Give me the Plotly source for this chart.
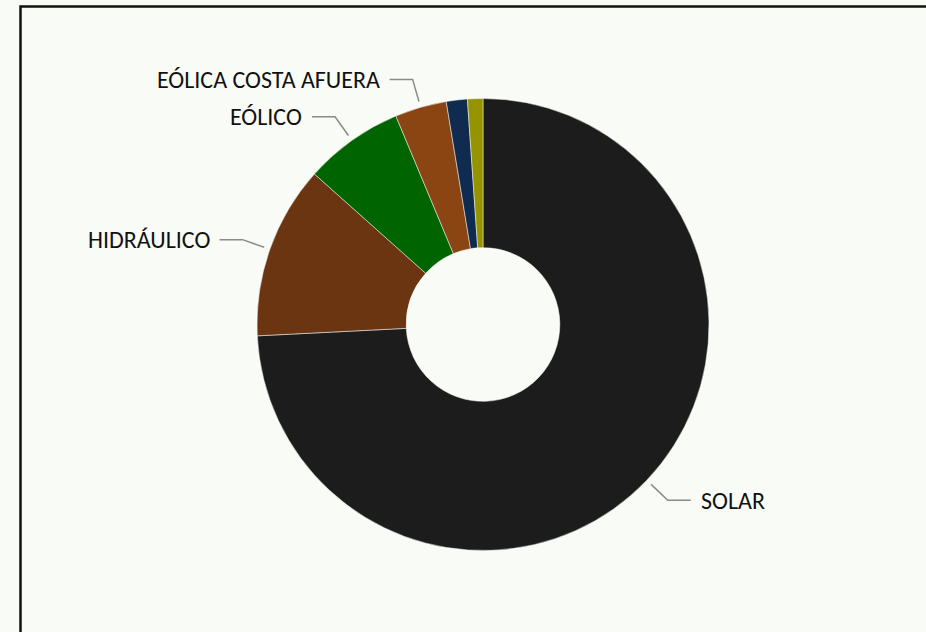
import math
import plotly.graph_objects as go

# ---- data ----
labels = ["SOLAR", "HIDRÁULICO", "EÓLICO", "EÓLICA COSTA AFUERA", "BIOENERGÍA", "GEOTÉRMICO"]
values = [74.2, 12.4, 7.1, 3.7, 1.5, 1.1]
show_label = [True, True, True, True, False, False]
colors = ["#1c1c1c", "#6a3510", "#006400", "#8b4513", "#0f2b50", "#959400"]

# ---- geometry (pixels) ----
W, H = 926, 632
CX, CY, R = 483.0, 324.5, 226.0
BG = "#f9fbf6"
FONT = "Calibri, Carlito, Lato, sans-serif"


def px(x):
    return x / W


def py(y):
    return 1 - y / H


fig = go.Figure(go.Pie(
    labels=labels,
    values=values,
    marker=dict(colors=colors, line=dict(color=BG, width=0.5)),
    hole=0.34,
    sort=False,
    direction="clockwise",
    rotation=0,
    textinfo="none",
    showlegend=False,
    domain=dict(x=[px(CX - R), px(CX + R)], y=[py(CY + R), py(CY - R)]),
))

shapes = []
annotations = []
total = sum(values)
cum = 0.0
for lab, v, show in zip(labels, values, show_label):
    mid = (cum + v / 2) / total * 2 * math.pi
    cum += v
    if not show:
        continue
    s, c = math.sin(mid), math.cos(mid)
    x1, y1 = CX + (R + 6) * s, CY - (R + 6) * c
    x2, y2 = CX + (R + 29) * s, CY - (R + 29) * c
    side = 1 if s >= 0 else -1
    x3 = x2 + side * 23
    shapes.append(dict(
        type="path", xref="paper", yref="paper",
        path=f"M {px(x1)} {py(y1)} L {px(x2)} {py(y2)} L {px(x3)} {py(y2)}",
        line=dict(color="#8a8a8a", width=1.5),
    ))
    annotations.append(dict(
        x=px(x3 + side * 8), y=py(y2), xref="paper", yref="paper",
        text=lab, showarrow=False,
        xanchor="left" if side > 0 else "right", yanchor="middle",
        font=dict(family=FONT, size=24, color="#111111"),
    ))

# outer frame
shapes.append(dict(
    type="rect", xref="paper", yref="paper",
    x0=px(20.5), y0=py(6.5), x1=px(W + 20), y1=py(H + 20),
    line=dict(color="#111111", width=2.5), fillcolor="rgba(0,0,0,0)",
))

fig.update_layout(
    width=W, height=H,
    margin=dict(l=0, r=0, t=0, b=0),
    paper_bgcolor=BG, plot_bgcolor=BG,
    shapes=shapes, annotations=annotations,
)

fig.write_html(
    "out.html",
    config={"displayModeBar": False},
    post_script="document.body.style.margin='0';document.body.style.overflow='hidden';"
                "document.body.style.background='" + BG + "';",
)
